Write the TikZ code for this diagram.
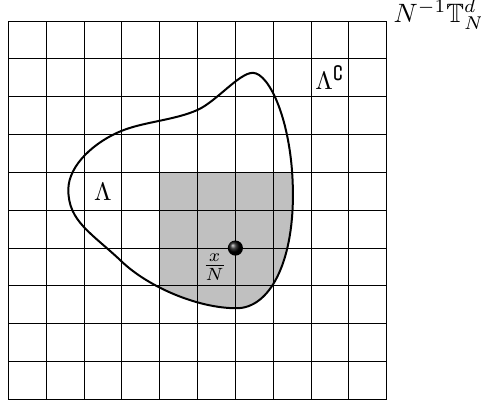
\documentclass[tikz,border=0pt]{standalone}
\usepackage{amsmath,amssymb}
\usepackage{tikz}
\definecolor{GrisRegion}{RGB}{192,192,192}
% borde de la region Lambda
\newcommand{\bordeLambda}{(6.46,8.63) .. controls (6.9,8.63) and (7.52,7.3) .. (7.52,5.4)
  .. controls (7.52,3.6) and (6.9,2.41) .. (6.03,2.41)
  .. controls (5.0,2.41) and (3.7,2.975) .. (3.0,3.64)
  .. controls (2.2,4.4) and (1.585,4.7) .. (1.585,5.54)
  .. controls (1.585,6.2) and (2.3,6.82) .. (3.0,7.1)
  .. controls (3.6,7.34) and (4.4,7.38) .. (5.0,7.65)
  .. controls (5.5,7.875) and (6.1,8.63) .. cycle}

\begin{document}
\begin{tikzpicture}[every node/.style={scale=1.9},
  rejilla/.style={line width=0.65pt,black},
  borde/.style={line width=1.5pt}]
  \useasboundingbox (-0.22,-0.02) rectangle (12.49,10.555);

  % Parte sombreada
  \begin{scope}
    \clip \bordeLambda;
    \fill[GrisRegion] (4,0) rectangle (10,6);
  \end{scope}

  % Rejilla
  \draw[rejilla] (0,0) grid (10,10);

  % Region Lambda
  \draw[borde] \bordeLambda;

  % Punto x/N
  \coordinate (P) at (6,4);
  \shade[ball color=black] (P) circle (0.2);
  \node (xN) at (5.45,3.5) {$\frac{x}{N}$};

  \node (L) at (2.5,5.48) {$\Lambda$};
  \node[anchor=base west,inner sep=0pt] (Lc) at (8.1,8.18) {$\Lambda^\complement$};
  \node[anchor=base west,inner sep=0pt,scale=1.05] (toro) at (10.17,9.96) {$N^{-1}\mathbb{T}^d_N$};
\end{tikzpicture}
\end{document}
